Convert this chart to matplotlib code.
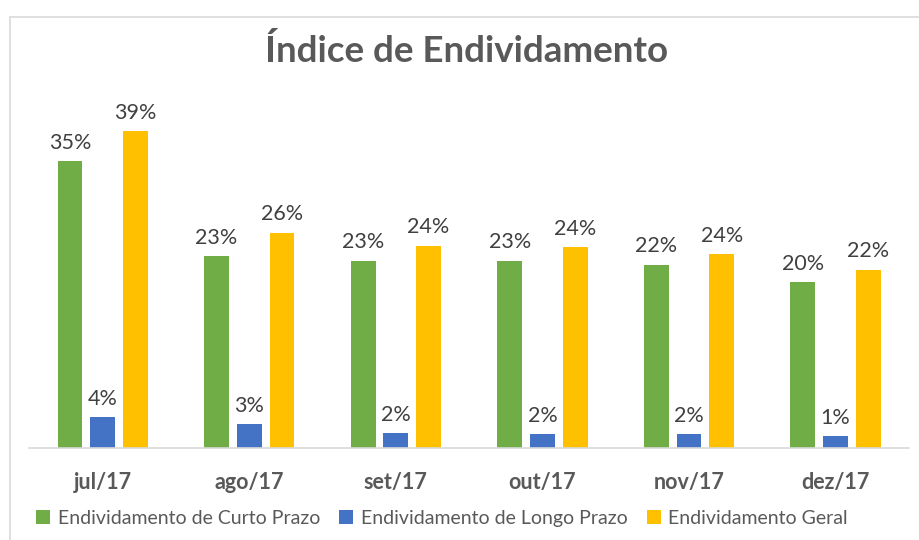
import numpy as np
import matplotlib.pyplot as plt
from matplotlib.patches import Rectangle

plt.rcParams['font.family'] = ['Lato', 'DejaVu Sans']

meses = ['jul/17', 'ago/17', 'set/17', 'out/17', 'nov/17', 'dez/17']
curto = [35.0, 23.4, 22.9, 22.9, 22.4, 20.3]
longo = [3.75, 2.9, 1.8, 1.7, 1.7, 1.45]
geral = [38.7, 26.3, 24.7, 24.5, 23.7, 21.8]
rot_curto = ['35%', '23%', '23%', '23%', '22%', '20%']
rot_longo = ['4%', '3%', '2%', '2%', '2%', '1%']
rot_geral = ['39%', '26%', '24%', '24%', '24%', '22%']

fig = plt.figure(figsize=(9.19, 5.4), dpi=100)
ax = fig.add_axes([0.032, 0.170, 0.957, 0.689])

# moldura cinza clara
fig.patches.append(Rectangle((10/919, -0.1), 1.2, 1 - 17/540 + 0.1,
                             transform=fig.transFigure, fill=False,
                             edgecolor='#d9d9d9', linewidth=1.2))

x = np.arange(len(meses))
w = 0.17
d = 0.223
series = [(curto, rot_curto, '#70AD47', 'Endividamento de Curto Prazo', -d),
          (longo, rot_longo, '#4472C4', 'Endividamento de Longo Prazo', 0),
          (geral, rot_geral, '#FFC000', 'Endividamento Geral', d)]
for vals, rots, cor, nome, off in series:
    b = ax.bar(x + off, vals, w, color=cor, label=nome)
    ax.bar_label(b, labels=rots, padding=6, fontsize=15.5, color='#404040')

ax.set_xlim(-0.5, 5.5)
ax.set_ylim(0, 45.4)
ax.set_yticks([])
ax.set_xticks(x)
ax.set_xticklabels(meses, fontsize=15.5, fontweight='bold', color='#595959')
ax.tick_params(axis='x', length=0, pad=17)
for s in ['top', 'right', 'left']:
    ax.spines[s].set_visible(False)
ax.spines['bottom'].set_color('#d9d9d9')
ax.spines['bottom'].set_linewidth(1.2)

fig.text(0.508, 0.905, 'Índice de Endividamento', ha='center', va='center',
         fontsize=26.5, fontweight='bold', color='#595959')

leg = fig.legend(loc='center', bbox_to_anchor=(0.481, 0.04), ncol=3, frameon=False,
                 fontsize=14, handlelength=0.7, handleheight=0.7,
                 handletextpad=0.4, columnspacing=1.0)
for t in leg.get_texts():
    t.set_color('#595959')

fig.savefig('out.png', dpi=100)
